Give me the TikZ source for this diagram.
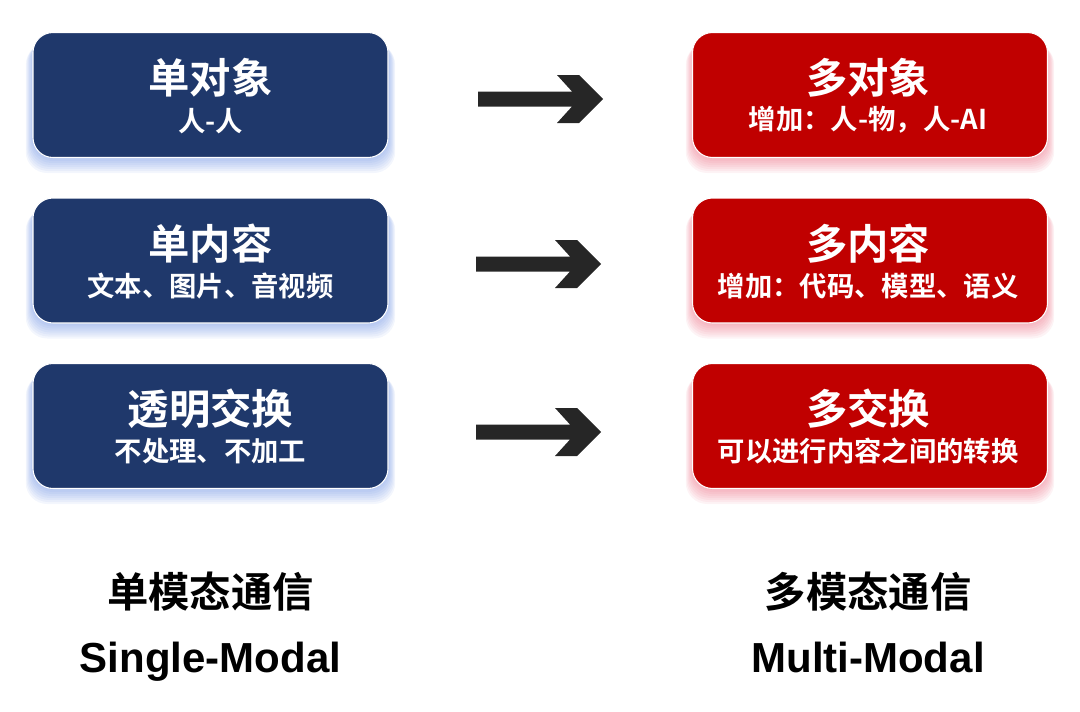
\documentclass[tikz,border=0pt]{standalone}
\usepackage{fontspec}
\newfontfamily\cjk{Noto Sans CJK SC}[BoldFont={Noto Sans CJK SC Bold}]
\newfontfamily\latinbf{Liberation Sans}
\definecolor{boxblue}{HTML}{1F386B}
\definecolor{boxred}{HTML}{C00000}
\definecolor{glowblue}{HTML}{5F86E0}
\definecolor{glowred}{HTML}{E8506A}
\definecolor{arrowgray}{HTML}{262626}
\begin{document}
\begin{tikzpicture}[x=0.75pt,y=-0.75pt,
  box/.style={draw=white,line width=0.8pt,rounded corners=15pt,minimum width=266.25pt,minimum height=93.75pt,inner sep=0pt},
  bluebox/.style={box,fill=boxblue},
  redbox/.style={box,fill=boxred},
  title/.style={text=white,font=\cjk\bfseries\fontsize{31}{36}\selectfont,inner sep=0pt},
  sub/.style={text=white,font=\cjk\bfseries\fontsize{20.5}{24}\selectfont,inner sep=0pt},
  bottomcn/.style={text=black,font=\cjk\bfseries\fontsize{31}{36}\selectfont,inner sep=0pt},
  bottomen/.style={text=black,font=\latinbf\bfseries\fontsize{31.5}{36}\selectfont,inner sep=0pt,anchor=base},
  fatarrow/.style={fill=arrowgray,draw=none}]
\useasboundingbox (0,0) rectangle (1080,711);
% glows
\foreach \cy in {95,260.5,426}{
  \foreach \i in {1,...,8}{
    \fill[glowblue,opacity=0.075,rounded corners=16pt] (33-\i*0.9,\cy-58+\i*0.8) rectangle (388+\i*0.9,\cy+62+\i*2);
    \fill[glowred,opacity=0.065,rounded corners=16pt] (693-\i*0.9,\cy-58+\i*0.8) rectangle (1047+\i*0.9,\cy+62+\i*2);
  }
}
% boxes
\node[bluebox] (l1) at (210.5,95) {};
\node[bluebox] (l2) at (210.5,260.5) {};
\node[bluebox] (l3) at (210.5,426) {};
\node[redbox] (r1) at (870,95) {};
\node[redbox] (r2) at (870,260.5) {};
\node[redbox] (r3) at (870,426) {};
% texts
\node[title] (l1t) at (210.5,78) {单对象};
\node[sub] (l1s) at (210.5,121) {人-人};
\node[title] (l2t) at (210.5,244) {单内容};
\node[sub] (l2s) at (210.5,286) {文本、图片、音视频};
\node[title] (l3t) at (210.5,409) {透明交换};
\node[sub] (l3s) at (210.5,451) {不处理、不加工};
\node[title] (r1t) at (868,78) {多对象};
\node[sub] (r1s) at (868,120) {增加：人-物，人-AI};
\node[title] (r2t) at (868,244) {多内容};
\node[sub] (r2s) at (868,286) {增加：代码、模型、语义};
\node[title] (r3t) at (868,409) {多交换};
\node[sub] (r3s) at (868,451) {可以进行内容之间的转换};
% arrows
\foreach \n/\ax/\ay in {a1/478/99, a2/476/264, a3/476/432}{
  \coordinate (\n) at (\ax,\ay);
  \fill[fatarrow] (\n) ++(0,-7.5) -- ++(94,0) -- ++(-15,-16.5) -- ++(22,0) -- ++(24,24) -- ++(-24,24) -- ++(-22,0) -- ++(15,-16.5) -- ++(-94,0) -- cycle;
}
% bottom labels
\node[bottomcn] (lc) at (210.5,592) {单模态通信};
\node[bottomen] (le) at (210.5,672) {Single-Modal};
\node[bottomcn] (rc) at (868,592) {多模态通信};
\node[bottomen] (re) at (868,672) {Multi-Modal};
\end{tikzpicture}
\end{document}
